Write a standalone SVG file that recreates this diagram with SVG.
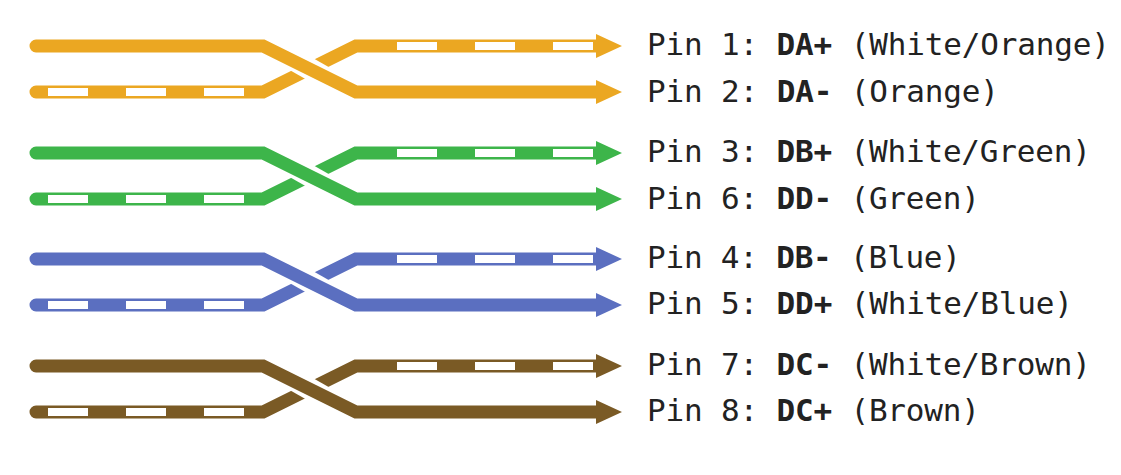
<svg xmlns="http://www.w3.org/2000/svg" width="1121" height="475" viewBox="0 0 1121 475">
<style>
.w{fill:none;stroke:currentColor;stroke-width:13;stroke-linecap:round;stroke-linejoin:miter}
.d{fill:none;stroke:#fff;stroke-width:8;stroke-dasharray:40 38}
.g{fill:none;stroke:#fff;stroke-width:22}
.h{fill:currentColor}
text{font-family:"DejaVu Sans Mono","Liberation Mono",monospace;font-size:31px;fill:#222}
.b{font-weight:bold}
</style>
<g id="connectors">
<g id="orange" style="color:#eba722">
<path class="w" d="M36,92 H263 L356,46 H596"/>
<path class="d" d="M48,92 H250"/>
<path class="d" d="M397,46 H596"/>
<path class="g" d="M280,52 L340,86"/>
<path class="w" d="M36,46 H263 L356,92 H596"/>
<path class="h" d="M596,34 L622,46 L596,58Z M596,80 L622,92 L596,104Z"/>
</g>
<g id="green" style="color:#3db54a" transform="translate(0,107)">
<path class="w" d="M36,92 H263 L356,46 H596"/>
<path class="d" d="M48,92 H250"/>
<path class="d" d="M397,46 H596"/>
<path class="g" d="M280,52 L340,86"/>
<path class="w" d="M36,46 H263 L356,92 H596"/>
<path class="h" d="M596,34 L622,46 L596,58Z M596,80 L622,92 L596,104Z"/>
</g>
<g id="blue" style="color:#5b6fc0" transform="translate(0,213)">
<path class="w" d="M36,92 H263 L356,46 H596"/>
<path class="d" d="M48,92 H250"/>
<path class="d" d="M397,46 H596"/>
<path class="g" d="M280,52 L340,86"/>
<path class="w" d="M36,46 H263 L356,92 H596"/>
<path class="h" d="M596,34 L622,46 L596,58Z M596,80 L622,92 L596,104Z"/>
</g>
<g id="brown" style="color:#7a5a25" transform="translate(0,320)">
<path class="w" d="M36,92 H263 L356,46 H596"/>
<path class="d" d="M48,92 H250"/>
<path class="d" d="M397,46 H596"/>
<path class="g" d="M280,52 L340,86"/>
<path class="w" d="M36,46 H263 L356,92 H596"/>
<path class="h" d="M596,34 L622,46 L596,58Z M596,80 L622,92 L596,104Z"/>
</g>
</g>
<g id="labels">
<text id="pin1" x="647" y="55" textLength="463">Pin 1: <tspan class="b">DA+</tspan> (White/Orange)</text>
<text id="pin2" x="647" y="102" textLength="352">Pin 2: <tspan class="b">DA-</tspan> (Orange)</text>
<text id="pin3" x="647" y="162" textLength="444">Pin 3: <tspan class="b">DB+</tspan> (White/Green)</text>
<text id="pin6" x="647" y="209" textLength="333">Pin 6: <tspan class="b">DD-</tspan> (Green)</text>
<text id="pin4" x="647" y="268" textLength="314">Pin 4: <tspan class="b">DB-</tspan> (Blue)</text>
<text id="pin5" x="647" y="314" textLength="426">Pin 5: <tspan class="b">DD+</tspan> (White/Blue)</text>
<text id="pin7" x="647" y="375" textLength="444">Pin 7: <tspan class="b">DC-</tspan> (White/Brown)</text>
<text id="pin8" x="647" y="421" textLength="333">Pin 8: <tspan class="b">DC+</tspan> (Brown)</text>
</g>
</svg>
